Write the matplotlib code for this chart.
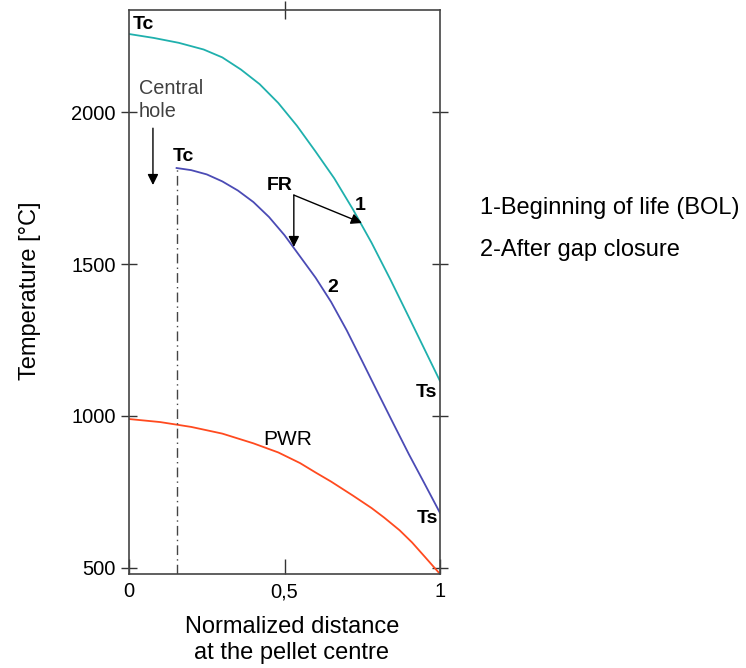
import matplotlib
matplotlib.use("Agg")
import matplotlib.pyplot as plt

plt.rcParams['font.family'] = ['Liberation Sans', 'DejaVu Sans']

# temperature profiles across the pellet radius
x_bol = [0.00, 0.08, 0.16, 0.24, 0.30, 0.36, 0.42, 0.48, 0.54,
         0.60, 0.66, 0.72, 0.78, 0.84, 0.90, 0.95, 1.00]
t_bol = [2257, 2244, 2228, 2206, 2180, 2140, 2092, 2030, 1955,
         1870, 1782, 1680, 1570, 1450, 1325, 1220, 1115]

hole_r = 0.153
x_gap = [hole_r, 0.20, 0.25, 0.30, 0.35, 0.40, 0.45, 0.50, 0.55,
         0.60, 0.65, 0.70, 0.75, 0.80, 0.85, 0.90, 0.95, 1.00]
t_gap = [1816, 1809, 1795, 1772, 1742, 1704, 1655, 1595, 1525,
         1455, 1375, 1282, 1180, 1077, 975, 874, 778, 681]

x_pwr = [0.00, 0.10, 0.20, 0.30, 0.40, 0.48, 0.55, 0.60, 0.65,
         0.72, 0.78, 0.82, 0.87, 0.91, 0.95, 1.00]
t_pwr = [990, 980, 964, 942, 910, 880, 845, 814, 784,
         738, 697, 666, 624, 584, 538, 480]

x_ticks = [0, 0.5, 1]
x_ticklabels = ['0', '0,5', '1']
y_ticks = [500, 1000, 1500, 2000]

W, H = 746, 668
fig = plt.figure(figsize=(W / 100, H / 100), dpi=100)
ax = fig.add_axes([129 / W, 1 - 574 / H, 311 / W, 564 / H])

ax.plot(x_bol, t_bol, color='#1fb0ad', lw=1.3)
ax.plot(x_gap, t_gap, color='#4b4bb5', lw=1.3)
ax.plot(x_pwr, t_pwr, color='#ff4a1f', lw=1.3)
ax.plot([hole_r, hole_r], [480, t_gap[0]], color='#444444', lw=1,
        linestyle=(0, (7, 3, 1, 3)))

ax.set_xlim(0, 1)
ax.set_ylim(480, 2336)

for s in ax.spines.values():
    s.set_color('#444444')
    s.set_linewidth(1.2)

ax.set_xticks(x_ticks)
ax.set_xticklabels(x_ticklabels)
ax.tick_params(axis='x', direction='in', length=11, width=1,
               color='#333333', labelsize=14.5, pad=6)
ax.set_yticks(y_ticks)
ax.tick_params(axis='y', direction='inout', length=11, width=1,
               color='#333333', right=True, labelsize=14.5, pad=4)

top = ax.secondary_xaxis('top')
top.set_xticks([0.5])
top.set_xticklabels([''])
top.tick_params(direction='inout', length=13, width=1, color='#333333')
top.spines['top'].set_visible(False)

arrow = dict(arrowstyle='-|>', color='black', lw=1, mutation_scale=16,
             shrinkA=0, shrinkB=0)
ax.annotate('', xy=(0.077, 1760), xytext=(0.077, 1947), arrowprops=arrow)
ax.annotate('', xy=(0.53, 1556), xytext=(0.53, 1727), arrowprops=arrow)
ax.annotate('', xy=(0.749, 1635), xytext=(0.53, 1727), arrowprops=arrow)

bold = dict(fontsize=14, fontweight='bold')
ax.text(0.013, 2289, 'Tc', ha='left', va='center', **bold)
ax.text(0.141, 1855, 'Tc', ha='left', va='center', **bold)
ax.text(0.032, 2041, 'Central\nhole', ha='left', va='center',
        fontsize=14.3, color='#404040', linespacing=1.25)
ax.text(0.444, 1757, 'FR', ha='left', va='center', **bold)
ax.text(0.743, 1694, '1', ha='center', va='center', **bold)
ax.text(0.656, 1424, '2', ha='center', va='center', **bold)
ax.text(0.99, 1076, 'Ts', ha='right', va='center', **bold)
ax.text(0.993, 661, 'Ts', ha='right', va='center', **bold)
ax.text(0.51, 924, 'PWR', ha='center', va='center', fontsize=15)

fig.text(30 / W, 1 - 291 / H, 'Temperature [°C]', rotation=90,
         ha='center', va='center', fontsize=17)
fig.text(292 / W, 1 - 640 / H, 'Normalized distance\nat the pellet centre',
         ha='center', va='center', fontsize=17, linespacing=1.2)
fig.text(480 / W, 1 - 208 / H, '1-Beginning of life (BOL)',
         ha='left', va='center', fontsize=17)
fig.text(480 / W, 1 - 250 / H, '2-After gap closure',
         ha='left', va='center', fontsize=17)

fig.savefig('out.png', dpi=100)
